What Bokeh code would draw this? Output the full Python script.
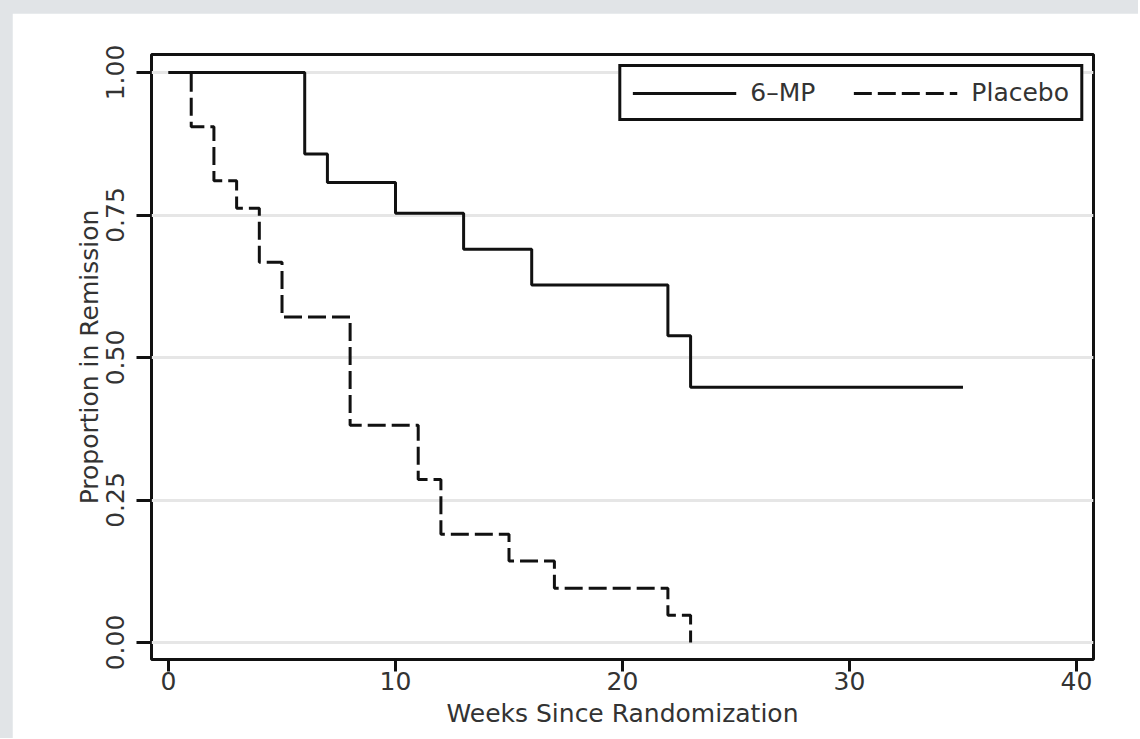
from bokeh.plotting import figure
from bokeh.layouts import column
from bokeh.models import Range1d, FixedTicker, NumeralTickFormatter, Legend, LegendItem
from bokeh.embed import file_html
from bokeh.resources import INLINE

# Kaplan-Meier estimates
mp_weeks = [0, 6, 7, 10, 13, 16, 22, 23, 35]
mp_surv = [1.0, 0.857, 0.807, 0.753, 0.690, 0.627, 0.538, 0.448, 0.448]
pl_weeks = [0, 1, 2, 3, 4, 5, 8, 11, 12, 15, 17, 22, 23]
pl_surv = [1.0, 0.905, 0.810, 0.762, 0.667, 0.571, 0.381, 0.286, 0.190, 0.143, 0.095, 0.048, 0.0]
series_names = ["6–MP", "Placebo"]
x_ticks = [0, 10, 20, 30, 40]
y_ticks = [0.0, 0.25, 0.5, 0.75, 1.0]
x_title = "Weeks Since Randomization"
y_title = "Proportion in Remission"

FONT = "DejaVu Sans"
TEXT = "#333333"
INK = "#111111"
GRID = "#e6e6e6"
PAGE = "#e1e4e7"

p = figure(
    width=1126, height=725,
    output_backend="svg", toolbar_location=None,
    x_range=Range1d(-0.75, 40.75), y_range=Range1d(-0.0298, 1.0316),
    min_border_left=139, min_border_right=45, min_border_top=41, min_border_bottom=79,
    background_fill_color="white", border_fill_color="white",
    outline_line_color=INK, outline_line_width=3, outline_line_alpha=1.0,
)

p.xaxis.ticker = FixedTicker(ticks=x_ticks)
p.yaxis.ticker = FixedTicker(ticks=y_ticks)
p.yaxis.formatter = NumeralTickFormatter(format="0.00")
p.xaxis.axis_label = x_title
p.yaxis.axis_label = y_title
p.yaxis.major_label_orientation = "vertical"

for ax in p.axis:
    ax.axis_line_color = None
    ax.major_tick_line_color = INK
    ax.major_tick_line_width = 3
    ax.major_tick_in = 0
    ax.minor_tick_line_color = None
    ax.major_label_text_font = FONT
    ax.major_label_text_font_size = "25px"
    ax.major_label_text_color = TEXT
    ax.axis_label_text_font = FONT
    ax.axis_label_text_font_size = "25px"
    ax.axis_label_text_font_style = "normal"
    ax.axis_label_text_color = TEXT
p.xaxis.major_tick_out = 12
p.yaxis.major_tick_out = 15
p.xaxis.major_label_standoff = 0
p.yaxis.major_label_standoff = 12
p.xaxis.axis_label_standoff = 6
p.yaxis.axis_label_standoff = 0

p.xgrid.visible = False
p.ygrid.ticker = FixedTicker(ticks=y_ticks)
p.ygrid.grid_line_color = GRID
p.ygrid.grid_line_width = 3

r_mp = p.step(mp_weeks, mp_surv, mode="after", line_color=INK, line_width=3)
r_pl = p.step(pl_weeks, pl_surv, mode="after", line_color=INK, line_width=3, line_dash="18 6")

legend = Legend(
    items=[LegendItem(label=series_names[0], renderers=[r_mp]),
           LegendItem(label=series_names[1], renderers=[r_pl])],
    orientation="horizontal", location="top_right",
    glyph_width=104, glyph_height=20, label_standoff=14, spacing=38,
    padding=11, margin=10,
    border_line_color=INK, border_line_width=3, border_line_alpha=1.0,
    background_fill_color="white", background_fill_alpha=1.0,
    label_text_font=FONT, label_text_font_size="25px", label_text_color=TEXT,
)
p.add_layout(legend)

layout = column(p, styles={"background-color": PAGE, "margin": "0",
                           "padding": "13px 0 0 12px"})

open("out.html", "w").write(file_html(layout, INLINE))
